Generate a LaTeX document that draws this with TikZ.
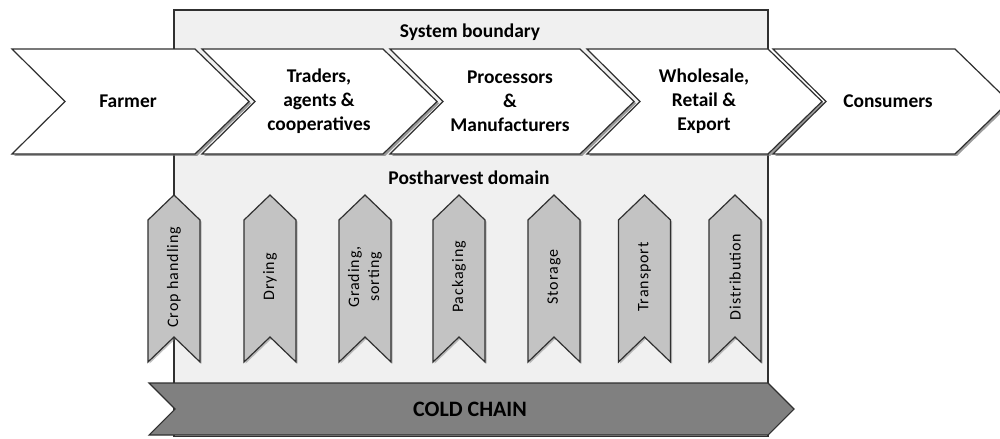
\documentclass[tikz,border=0pt]{standalone}
\usepackage{fontspec}
\setmainfont{Carlito}
\newfontfamily\vlabelfont[LetterSpace=6]{Carlito}
\usetikzlibrary{shadows}
\definecolor{boxfill}{HTML}{F0F0F0}
\definecolor{edge}{HTML}{303030}
\definecolor{vfill}{HTML}{C3C3C3}
\definecolor{coldfill}{HTML}{808080}
\begin{document}
\begin{tikzpicture}[x=0.75pt,y=-0.75pt,
  boundary/.style={fill=boxfill, draw=edge, line width=1.2pt},
  hchev/.style={fill=white, draw=edge, line width=0.9pt, line join=miter,
    drop shadow={shadow xshift=1.6pt, shadow yshift=-1.4pt, fill=black!55, opacity=0.7}},
  vchev/.style={fill=vfill, draw=edge, line width=0.9pt, line join=miter,
    drop shadow={shadow xshift=1.2pt, shadow yshift=-1.2pt, fill=black!50, opacity=0.5}},
  coldchev/.style={fill=coldfill, draw=edge, line width=0.8pt, line join=miter},
  htext/.style={font=\fontsize{14.6}{18}\selectfont\bfseries, align=center, text=black, inner sep=0pt},
  vtext/.style={font=\vlabelfont\fontsize{12}{15}\selectfont, rotate=90, align=center, text=black, inner sep=0pt},
  ctext/.style={font=\fontsize{16.5}{20}\selectfont\bfseries, text=black, inner sep=0pt}
]
\useasboundingbox (0,0) rectangle (1000,439);

% system boundary box
\path[boundary] (174,10) rectangle (768,436.5);
\node[htext] (sysb) at (470,32) {System boundary};
\node[htext] (post) at (469,178) {Postharvest domain};

% top row chevrons
\path[hchev] (12,49) -- (195,49) -- (249,101.5) -- (195,154) -- (12,154) -- (65,101.5) -- cycle;
\node[htext] (farmer) at (128,101.5) {Farmer};

\path[hchev] (202,49) -- (383,49) -- (437,101.5) -- (383,154) -- (202,154) -- (255,101.5) -- cycle;
\node[htext] (traders) at (319,101.5) {Traders,\\agents \&\\cooperatives};

\path[hchev] (390,49) -- (580,49) -- (634,101.5) -- (580,154) -- (390,154) -- (443,101.5) -- cycle;
\node[htext] (proc) at (510,101.5) {Processors\\\&\\Manufacturers};

\path[hchev] (587,49) -- (768,49) -- (822,101.5) -- (768,154) -- (587,154) -- (640,101.5) -- cycle;
\node[htext] (whole) at (704,101.5) {Wholesale,\\Retail \&\\Export};

\path[hchev] (773,49) -- (955,49) -- (1009,101.5) -- (955,154) -- (773,154) -- (826,101.5) -- cycle;
\node[htext] (cons) at (888,101.5) {Consumers};

% vertical postharvest chevrons
\foreach \c/\n/\t in {174/crop/{Crop handling}, 270/dry/{Drying}, 365/grade/{Grading,\\sorting}, 459/pack/{Packaging}, 554/store/{Storage}, 644.5/trans/{Transport}, 735/dist/{Distribution}}{
  \path[vchev] (\c,195) -- (\c+26,220) -- (\c+26,362) -- (\c,337) -- (\c-26,362) -- (\c-26,220) -- cycle;
  \node[vtext] (\n) at (\c,277) {\t};
}

% cold chain
\path[coldchev] (149,383) -- (768,383) -- (794,409) -- (768,435) -- (149,435) -- (175,409) -- cycle;
\node[ctext] (cold) at (470,409) {COLD CHAIN};
\end{tikzpicture}
\end{document}
